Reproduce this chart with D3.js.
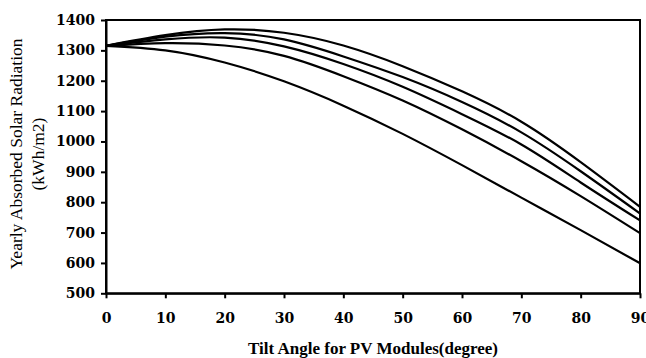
<!DOCTYPE html>
<html>
<head>
<meta charset="utf-8">
<script src="https://cdn.jsdelivr.net/npm/d3@7"></script>
<style>
    body { margin: 0; background: #fff; }
    .axis path, .axis line { stroke: #000; stroke-width: 2px; }
    .axis text { font-family: "DejaVu Serif", serif; font-weight: bold; font-size: 14px; fill: #000; }
    .line { fill: none; stroke: #000; stroke-width: 2.2px; }
</style>
</head>
<body>
<div id="chart"></div>
<script>
// Tilt angle (degree) on the x axis
var tiltAngles = [0, 10, 20, 30, 40, 50, 60, 70, 80, 90];

// Yearly absorbed radiation (kWh/m2), top curve first
var curveA = [1315, 1350, 1369, 1358, 1316, 1248, 1165, 1065, 932, 785];
var curveB = [1315, 1345, 1357, 1336, 1280, 1212, 1130, 1030, 902, 763];
var curveC = [1315, 1336, 1342, 1313, 1255, 1180, 1090, 990, 865, 740];
var curveD = [1315, 1324, 1316, 1282, 1215, 1135, 1040, 935, 820, 698];
var curveE = [1315, 1300, 1260, 1198, 1118, 1025, 922, 815, 708, 599];

var xTicks = [0, 10, 20, 30, 40, 50, 60, 70, 80, 90];
var yTicks = [500, 600, 700, 800, 900, 1000, 1100, 1200, 1300, 1400];

var width = 646,
    height = 358;

// plot box
var boxLeft = 106, boxRight = 640, boxTop = 20, boxBottom = 293.3;

var svg = d3.select("#chart")
    .append("svg")
    .attr("width", width)
    .attr("height", height);

// Set the ranges
var x = d3.scaleLinear().domain([0, 90]).range([boxLeft, boxRight]);
var y = d3.scaleLinear().domain([500, 1400]).range([boxBottom, boxTop]);

// Frame (top and right border)
svg.append("rect")
    .attr("x", boxLeft)
    .attr("y", boxTop)
    .attr("width", boxRight - boxLeft)
    .attr("height", boxBottom - boxTop)
    .attr("fill", "none")
    .attr("stroke", "#000")
    .attr("stroke-width", 2);

// Add the X Axis
svg.append("g")
    .attr("class", "axis")
    .attr("transform", "translate(0," + boxBottom + ")")
    .call(d3.axisBottom(x).tickValues(xTicks).tickSize(5).tickSizeOuter(0).tickPadding(15).tickFormat(d3.format("d")));

// Add the Y Axis
svg.append("g")
    .attr("class", "axis")
    .attr("transform", "translate(" + boxLeft + ",0)")
    .call(d3.axisLeft(y).tickValues(yTicks).tickSize(5).tickSizeOuter(0).tickPadding(6).tickFormat(d3.format("d")));

// Define the line
var valueline = d3.line()
    .x(function (d) { return x(d[0]); })
    .y(function (d) { return y(d[1]); })
    .curve(d3.curveNatural);

var allCurves = [curveA, curveB, curveC, curveD, curveE];

allCurves.forEach(function (c) {
    var pts = tiltAngles.map(function (t, i) { return [t, c[i]]; });
    svg.append("path")
        .attr("class", "line")
        .attr("d", valueline(pts));
});

// Text label for the X axis
svg.append("text")
    .attr("x", 373)
    .attr("y", 354)
    .attr("text-anchor", "middle")
    .style("font-family", "'Liberation Serif', serif")
    .style("font-weight", "bold")
    .style("font-size", "17px")
    .text("Tilt Angle for PV Modules(degree)");

// Text label for the Y axis (two lines)
var yTitle = svg.append("text")
    .attr("transform", "translate(22,154) rotate(-90)")
    .attr("text-anchor", "middle")
    .style("font-family", "'Liberation Serif', serif")
    .style("font-size", "17.5px");

yTitle.append("tspan")
    .attr("x", 0)
    .attr("y", 0)
    .text("Yearly Absorbed Solar Radiation");

yTitle.append("tspan")
    .attr("x", 0)
    .attr("y", 22)
    .text("(kWh/m2)");
</script>
</body>
</html>
